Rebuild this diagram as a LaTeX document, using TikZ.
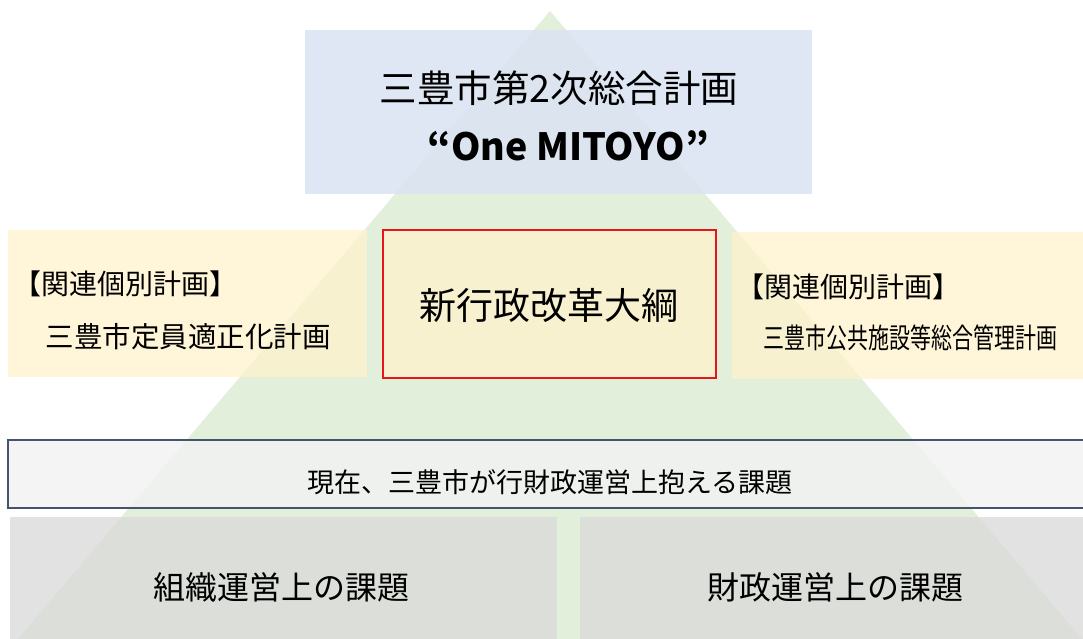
\documentclass[tikz,border=0pt]{standalone}
\usepackage{fontspec}
\setmainfont{Noto Sans CJK JP}
\newfontfamily\jp{Noto Sans CJK JP}
\begin{document}
\begin{tikzpicture}[x=1pt,y=-1pt,
  box/.style={draw=none,inner sep=0pt,outer sep=0pt},
  txt/.style={inner sep=0pt,text=black,font=\jp},
]
\definecolor{tri}{HTML}{E2EFDA}
\definecolor{bluebox}{HTML}{DAE3F3}
\definecolor{yel}{HTML}{FFF2CC}
\definecolor{slate}{HTML}{44546A}
\definecolor{redb}{HTML}{E8141B}
\definecolor{barfill}{HTML}{F2F2F2}
\useasboundingbox (0,0) rectangle (1083,639);
\fill[white] (0,0) rectangle (1083,639);
% pyramid
\coordinate (apex) at (550,11);
\coordinate (bl) at (18,639);
\coordinate (br) at (1082,639);
\fill[tri] (apex) -- (br) -- (bl) -- cycle;
% top plan
\fill[bluebox,fill opacity=0.85] (305,30) rectangle (812,194);
\node[box,minimum width=507pt,minimum height=164pt,anchor=north west] (plan) at (305,30) {};
\node[txt,font=\jp\fontsize{37.5}{44}\selectfont] (planA) at (559,88) {三豊市第2次総合計画};
\node[txt,font=\jp\bfseries\fontsize{37.5}{44}\selectfont] (planB) at (568,146) {“One MITOYO”};
% side boxes
\fill[yel,fill opacity=0.75] (8,230) rectangle (367,377);
\node[box,minimum width=359pt,minimum height=147pt,anchor=north west] (left) at (8,230) {};
\fill[yel,fill opacity=0.75] (732,232) rectangle (1083,379);
\node[box,minimum width=351pt,minimum height=147pt,anchor=north west] (right) at (732,232) {};
% center
\fill[yel,fill opacity=0.75] (382,229) rectangle (715,377);
\node[draw=redb,line width=2pt,inner sep=0pt,minimum width=333pt,minimum height=148pt,anchor=north west] (core) at (382,229) {};
\node[txt,font=\jp\fontsize{37}{44}\selectfont] (coreT) at (549,305) {新行政改革大綱};
\node[txt,font=\jp\fontsize{28}{34}\selectfont] (leftA) at (125,284) {【関連個別計画】};
\node[txt,font=\jp\fontsize{28.5}{34}\selectfont] (leftB) at (188,337) {三豊市定員適正化計画};
\node[txt,font=\jp\fontsize{28}{34}\selectfont] (rightA) at (848,287) {【関連個別計画】};
\node[txt,font=\jp\fontsize{28}{34}\selectfont] (rightB) at (910,338) {\scalebox{0.75}[1]{三豊市公共施設等総合管理計画}};
% issues bar
\fill[barfill,fill opacity=0.8] (8,440) rectangle (1090,508);
\draw[slate,line width=2pt] (1090,440) -- (8,440) -- (8,508) -- (1090,508);
\node[box,minimum width=1082pt,minimum height=68pt,anchor=north west] (issues) at (8,440) {};
\node[txt,font=\jp\fontsize{27}{32}\selectfont] (issuesT) at (550,482) {現在、三豊市が行財政運営上抱える課題};
% bottom boxes
\fill[gray!30,fill opacity=0.75] (10,517) rectangle (557,645);
\node[box,minimum width=547pt,minimum height=128pt,anchor=north west] (org) at (10,517) {};
\node[txt,font=\jp\fontsize{32}{38}\selectfont] (orgT) at (281,587) {組織運営上の課題};
\fill[gray!30,fill opacity=0.75] (580,517) rectangle (1090,645);
\node[box,minimum width=510pt,minimum height=128pt,anchor=north west] (fin) at (580,517) {};
\node[txt,font=\jp\fontsize{32}{38}\selectfont] (finT) at (835,587) {財政運営上の課題};
\end{tikzpicture}
\end{document}
